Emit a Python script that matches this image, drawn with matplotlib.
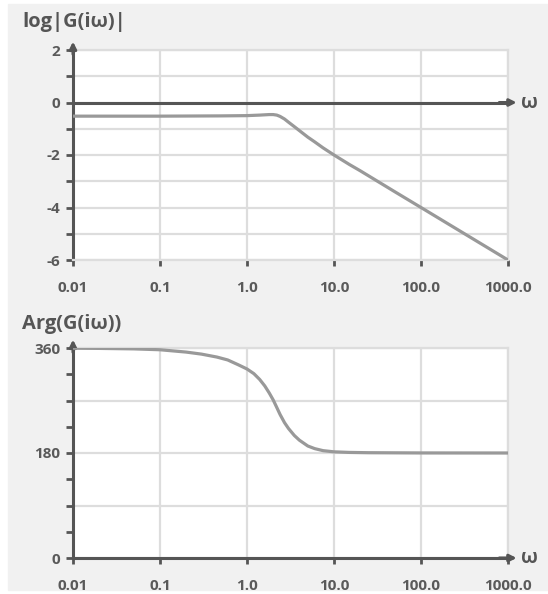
import matplotlib
matplotlib.use('Agg')
import matplotlib.pyplot as plt
from matplotlib.patches import Rectangle
from matplotlib.ticker import FixedLocator, FuncFormatter, NullLocator

plt.rcParams['font.family'] = ['Open Sans', 'DejaVu Sans']
plt.rcParams['font.weight'] = 'bold'

# values
omega = [0.01, 0.1, 0.5, 1.0, 1.4, 1.8, 2.0, 2.2, 2.4, 2.7, 3.0, 3.5, 4.0,
         5.0, 6.0, 7.5, 10.0, 15.0, 20.0, 50.0, 100.0, 1000.0]
log_mag = [-0.52, -0.52, -0.51, -0.50, -0.48, -0.46, -0.46, -0.48, -0.53, -0.63,
           -0.75, -0.92, -1.07, -1.32, -1.50, -1.73, -2.0, -2.36, -2.6, -3.4,
           -4.0, -6.0]

omega_ph = [0.01, 0.02, 0.05, 0.1, 0.2, 0.3, 0.45, 0.6, 0.8, 1.0, 1.2, 1.4,
            1.6, 1.8, 2.0, 2.2, 2.4, 2.7, 3.0, 3.5, 4.0, 5.0, 6.0, 7.5, 10.0,
            15.0, 25.0, 100.0, 1000.0]
arg = [359.6, 359.3, 358.5, 357.0, 353.0, 349.5, 344.5, 339.5, 331.0, 324.0,
       316.0, 306.0, 295.0, 283.0, 271.0, 258.0, 246.0, 232.0, 222.0, 210.0,
       202.0, 192.0, 187.5, 184.0, 182.0, 181.0, 180.5, 180.1, 180.0]

x_ticks = [0.01, 0.1, 1.0, 10.0, 100.0, 1000.0]
x_labels = ['0.01', '0.1', '1.0', '10.0', '100.0', '1000.0']

dark = '#555555'
grid = '#dddddd'
curve = '#999999'

W, H = 548, 594
fig = plt.figure(figsize=(W / 100, H / 100), dpi=100)
fig.patch.set_facecolor('white')
fig.patches.append(Rectangle((8 / W, 4 / H), 1 - 8 / W, 1 - 8 / H,
                             transform=fig.transFigure, color='#f1f1f1', zorder=-10))


def style_axes(ax, ymin, ymax, yticks, ylabels, minor=None):
    ax.set_facecolor('white')
    ax.set_xscale('log')
    ax.set_xlim(0.01, 1000)
    ax.set_ylim(ymin, ymax)
    ax.xaxis.set_major_locator(FixedLocator(x_ticks))
    ax.xaxis.set_minor_locator(NullLocator())
    ax.set_xticks(x_ticks)
    ax.set_xticklabels(x_labels)
    ax.yaxis.set_major_locator(FixedLocator(yticks))
    ax.yaxis.set_major_formatter(FuncFormatter(lambda v, p: ylabels.get(int(round(v)), '')))
    if minor:
        ax.yaxis.set_minor_locator(FixedLocator(minor))
    ax.grid(True, which='major', color=grid, linewidth=1.6, zorder=1)
    ax.tick_params(axis='both', which='both', colors=dark, labelcolor='#5a5a5a',
                   labelsize=11, width=2)
    ax.tick_params(axis='y', which='both', length=5, pad=4)
    ax.tick_params(axis='x', length=4, pad=11)
    for s in ['top', 'right', 'bottom']:
        ax.spines[s].set_color(grid)
        ax.spines[s].set_linewidth(1.6)
    ax.spines['left'].set_color(dark)
    ax.spines['left'].set_linewidth(2.2)
    ax.set_axisbelow(True)
    # arrow head on the y axis
    ax.annotate('', xy=(0, 1.04), xytext=(0, 0.98), xycoords='axes fraction',
                arrowprops=dict(arrowstyle='-|>', color=dark, lw=2.2,
                                mutation_scale=10, shrinkA=0, shrinkB=0))


ax1 = fig.add_axes([73 / W, 1 - 260 / H, 435 / W, 210 / H])
style_axes(ax1, -6, 2, list(range(-6, 3)), {2: '2', 0: '0', -2: '-2', -4: '-4', -6: '-6'})
ax1.axhline(0, color=dark, linewidth=2.2, zorder=3)
ax1.annotate('', xy=(1.02, 0), xytext=(0.98, 0), xycoords=('axes fraction', 'data'),
             arrowprops=dict(arrowstyle='-|>', color=dark, lw=2.2,
                             mutation_scale=10, shrinkA=0, shrinkB=0))
ax1.text(1.03, 0, 'ω', transform=ax1.get_yaxis_transform(), va='center', ha='left',
         fontsize=14, color=dark)
ax1.plot(omega, log_mag, color=curve, linewidth=2.3, zorder=4)
fig.text(22 / W, 1 - 22 / H, 'log|G(iω)|', fontsize=14.5, color=dark, va='center', ha='left')

ax2 = fig.add_axes([73 / W, 1 - 558 / H, 435 / W, 210 / H])
style_axes(ax2, 0, 360, [0, 90, 180, 270, 360], {0: '0', 180: '180', 360: '360'},
           minor=[45, 135, 225, 315])
ax2.spines['bottom'].set_color(dark)
ax2.spines['bottom'].set_linewidth(2.2)
ax2.annotate('', xy=(1.02, 0), xytext=(0.98, 0), xycoords='axes fraction',
             arrowprops=dict(arrowstyle='-|>', color=dark, lw=2.2,
                             mutation_scale=10, shrinkA=0, shrinkB=0))
ax2.text(1.03, 0, 'ω', transform=ax2.transAxes, va='center', ha='left',
         fontsize=14, color=dark)
ax2.plot(omega_ph, arg, color=curve, linewidth=2.3, zorder=4)
fig.text(22 / W, 1 - 324 / H, 'Arg(G(iω))', fontsize=14.5, color=dark, va='center', ha='left')

fig.savefig('out.png', dpi=100)
